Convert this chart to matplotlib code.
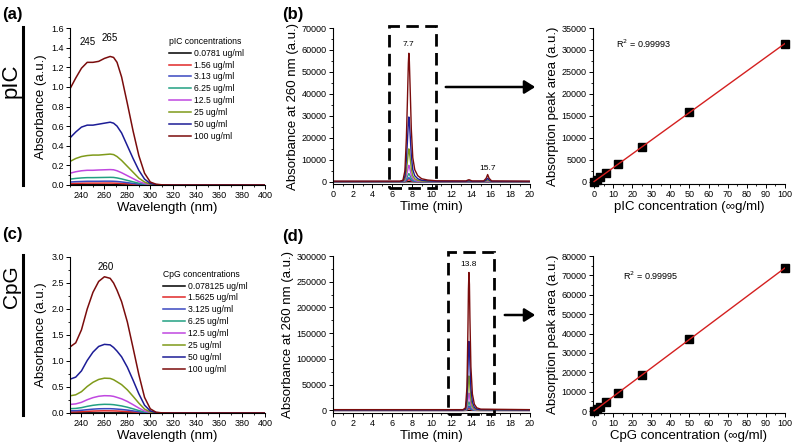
import matplotlib
matplotlib.use("Agg")
import matplotlib.pyplot as plt
import numpy as np
from matplotlib.patches import Rectangle, FancyArrowPatch
from matplotlib.lines import Line2D
from matplotlib.ticker import MultipleLocator

plt.rcParams['font.family'] = ['Liberation Sans', 'DejaVu Sans']

# ---------------- data ----------------
colors = ['#000000', '#e02828', '#3a48c0', '#22a082', '#c048e0', '#7f9a1a', '#1c1c96', '#7a0c0c']

pic_labels = ['0.0781 ug/ml', '1.56 ug/ml', '3.13 ug/ml', '6.25 ug/ml', '12.5 ug/ml', '25 ug/ml', '50 ug/ml', '100 ug/ml']
cpg_labels = ['0.078125 ug/ml', '1.5625 ug/ml', '3.125 ug/ml', '6.25 ug/ml', '12.5 ug/ml', '25 ug/ml', '50 ug/ml', '100 ug/ml']

wavelength = [230, 235, 240, 245, 250, 255, 260, 265, 268, 271, 275, 280, 285, 290, 295, 300, 305, 310, 320, 400]

pic_abs_0078 = [0.002, 0.002, 0.002, 0.002, 0.002, 0.002, 0.002, 0.002, 0.002, 0.002, 0.001, 0.001, 0.001, 0, 0, 0, 0, 0, 0, 0]
pic_abs_156 = [0.015, 0.017, 0.018, 0.019, 0.019, 0.019, 0.0195, 0.02, 0.019, 0.018, 0.016, 0.012, 0.008, 0.0045, 0.002, 0.0005, 0, 0, 0, 0]
pic_abs_313 = [0.03, 0.034, 0.036, 0.038, 0.038, 0.038, 0.039, 0.039, 0.038, 0.036, 0.031, 0.024, 0.016, 0.009, 0.004, 0.001, 0, 0, 0, 0]
pic_abs_625 = [0.06, 0.067, 0.072, 0.075, 0.075, 0.076, 0.077, 0.078, 0.077, 0.072, 0.062, 0.047, 0.032, 0.018, 0.008, 0.002, 0.0005, 0, 0, 0]
pic_abs_125 = [0.12, 0.135, 0.145, 0.15, 0.15, 0.153, 0.155, 0.157, 0.155, 0.145, 0.125, 0.095, 0.065, 0.035, 0.015, 0.004, 0.001, 0, 0, 0]
pic_abs_25 = [0.24, 0.27, 0.29, 0.30, 0.305, 0.305, 0.31, 0.315, 0.31, 0.29, 0.25, 0.19, 0.13, 0.07, 0.03, 0.008, 0.002, 0, 0, 0]
pic_abs_50 = [0.48, 0.54, 0.59, 0.61, 0.61, 0.62, 0.63, 0.64, 0.63, 0.60, 0.53, 0.40, 0.27, 0.15, 0.06, 0.015, 0.004, 0.001, 0, 0]
pic_abs_100 = [0.98, 1.09, 1.19, 1.25, 1.25, 1.26, 1.29, 1.31, 1.30, 1.25, 1.10, 0.83, 0.55, 0.30, 0.12, 0.03, 0.008, 0.002, 0.0, 0.0]

cpg_abs_0078 = [0.002, 0.002, 0.002, 0.002, 0.002, 0.002, 0.002, 0.002, 0.002, 0.002, 0.002, 0.001, 0.001, 0, 0, 0, 0, 0, 0, 0]
cpg_abs_156 = [0.021, 0.022, 0.026, 0.032, 0.037, 0.04, 0.042, 0.041, 0.04, 0.038, 0.034, 0.028, 0.02, 0.012, 0.005, 0.001, 0, 0, 0, 0]
cpg_abs_313 = [0.042, 0.044, 0.052, 0.064, 0.074, 0.081, 0.083, 0.083, 0.08, 0.075, 0.068, 0.056, 0.04, 0.024, 0.01, 0.003, 0, 0, 0, 0]
cpg_abs_625 = [0.083, 0.088, 0.103, 0.128, 0.148, 0.161, 0.167, 0.165, 0.16, 0.15, 0.136, 0.111, 0.08, 0.047, 0.019, 0.005, 0.001, 0, 0, 0]
cpg_abs_125 = [0.165, 0.175, 0.205, 0.255, 0.295, 0.322, 0.333, 0.33, 0.32, 0.30, 0.272, 0.222, 0.16, 0.095, 0.038, 0.01, 0.002, 0, 0, 0]
cpg_abs_25 = [0.33, 0.35, 0.41, 0.51, 0.59, 0.645, 0.67, 0.665, 0.64, 0.60, 0.545, 0.445, 0.32, 0.19, 0.075, 0.02, 0.004, 0.001, 0, 0]
cpg_abs_50 = [0.65, 0.69, 0.81, 1.01, 1.17, 1.28, 1.32, 1.31, 1.26, 1.19, 1.08, 0.88, 0.63, 0.37, 0.15, 0.04, 0.008, 0.002, 0, 0]
cpg_abs_100 = [1.27, 1.35, 1.60, 2.00, 2.32, 2.53, 2.62, 2.59, 2.50, 2.36, 2.14, 1.75, 1.25, 0.74, 0.30, 0.08, 0.015, 0.003, 0, 0]

time_pic = [0, 6.8, 7.1, 7.3, 7.45, 7.55, 7.65, 7.7, 7.75, 7.85, 7.95, 8.1, 8.3, 8.6, 9.0, 9.6, 10.5, 13.5, 13.75, 13.85, 14.1, 15.3, 15.55, 15.7, 15.85, 16.1, 20]
hplc_pic_0078 = [0, 0, 1, 4, 16, 28, 42, 47, 43, 31, 19, 9, 4, 2, 1, 1, 0, 0, 1, 1, 0, 0, 1, 3, 1, 0, 0]
hplc_pic_156 = [5, 5, 11, 78, 312, 560, 850, 940, 860, 625, 375, 175, 85, 44, 22, 12, 7, 6, 14, 14, 6, 6, 25, 51, 25, 6, 5]
hplc_pic_313 = [10, 10, 22, 155, 625, 1125, 1700, 1880, 1720, 1250, 750, 350, 170, 88, 45, 25, 14, 12, 28, 28, 12, 12, 50, 103, 50, 12, 10]
hplc_pic_625 = [20, 20, 45, 310, 1250, 2250, 3400, 3750, 3450, 2500, 1500, 700, 345, 175, 90, 50, 28, 25, 55, 55, 25, 25, 100, 205, 100, 25, 20]
hplc_pic_125 = [40, 40, 90, 625, 2500, 4500, 6750, 7500, 6900, 5000, 3000, 1400, 690, 350, 175, 100, 55, 50, 110, 110, 50, 50, 200, 410, 200, 50, 40]
hplc_pic_25 = [75, 75, 175, 1250, 5000, 9000, 13500, 15000, 13750, 10000, 6000, 2750, 1375, 700, 350, 200, 110, 100, 225, 225, 100, 100, 400, 825, 400, 100, 75]
hplc_pic_50 = [150, 150, 350, 2500, 10000, 18000, 27000, 29500, 27500, 20000, 12000, 5500, 2750, 1400, 700, 400, 225, 200, 450, 450, 200, 200, 800, 1650, 800, 200, 150]
hplc_pic_100 = [300, 300, 700, 5000, 20000, 36000, 54000, 58500, 55000, 40000, 24000, 11000, 5500, 2800, 1400, 800, 450, 400, 900, 900, 400, 400, 1600, 3300, 1600, 400, 300]

time_cpg = [0, 13.2, 13.45, 13.6, 13.7, 13.75, 13.8, 13.85, 13.9, 14.0, 14.15, 14.35, 14.6, 15.0, 20]
hplc_cpg_0078 = [1, 1, 4, 35, 125, 185, 210, 190, 140, 66, 25, 9, 4, 2, 1]
hplc_cpg_156 = [24, 24, 78, 700, 2500, 3670, 4200, 3830, 2800, 1330, 500, 190, 78, 39, 24]
hplc_cpg_313 = [48, 48, 155, 1400, 5000, 7350, 8400, 7650, 5600, 2650, 1000, 375, 155, 78, 48]
hplc_cpg_625 = [95, 95, 310, 2810, 10000, 14700, 16750, 15300, 11250, 5300, 2000, 750, 310, 155, 95]
hplc_cpg_125 = [190, 190, 625, 5625, 20000, 29400, 33500, 30600, 22500, 10600, 4000, 1500, 625, 310, 190]
hplc_cpg_25 = [375, 375, 1250, 11250, 40000, 58750, 67000, 61250, 45000, 21250, 8000, 3000, 1250, 625, 375]
hplc_cpg_50 = [750, 750, 2500, 22500, 80000, 117500, 134000, 122500, 90000, 42500, 16000, 6000, 2500, 1250, 750]
hplc_cpg_100 = [1500, 1500, 5000, 45000, 160000, 235000, 268000, 245000, 180000, 85000, 32000, 12000, 5000, 2500, 1500]

conc_pic = [0.0781, 1.56, 3.13, 6.25, 12.5, 25, 50, 100]
area_pic = [25, 490, 985, 1980, 4000, 7950, 15900, 31400]
conc_cpg = [0.078125, 1.5625, 3.125, 6.25, 12.5, 25, 50, 100]
area_cpg = [58, 1160, 2320, 4650, 9300, 18700, 37000, 73800]

pic_spectra = [pic_abs_0078, pic_abs_156, pic_abs_313, pic_abs_625, pic_abs_125, pic_abs_25, pic_abs_50, pic_abs_100]
cpg_spectra = [cpg_abs_0078, cpg_abs_156, cpg_abs_313, cpg_abs_625, cpg_abs_125, cpg_abs_25, cpg_abs_50, cpg_abs_100]
pic_hplc = [hplc_pic_0078, hplc_pic_156, hplc_pic_313, hplc_pic_625, hplc_pic_125, hplc_pic_25, hplc_pic_50, hplc_pic_100]
cpg_hplc = [hplc_cpg_0078, hplc_cpg_156, hplc_cpg_313, hplc_cpg_625, hplc_cpg_125, hplc_cpg_25, hplc_cpg_50, hplc_cpg_100]

# ---------------- figure ----------------
W, H = 793, 445
fig = plt.figure(figsize=(W / 100, H / 100), dpi=100)

def rect(x0, y0, x1, y1):
    return [x0 / W, 1 - y1 / H, (x1 - x0) / W, (y1 - y0) / H]

TICK_FS = 6.5
LAB_FS = 9.5

def style(ax, xmaj, xmin, ymaj, ymin):
    for s in ['top', 'right']:
        ax.spines[s].set_visible(False)
    for s in ['left', 'bottom']:
        ax.spines[s].set_linewidth(0.8)
    ax.xaxis.set_major_locator(MultipleLocator(xmaj))
    ax.xaxis.set_minor_locator(MultipleLocator(xmin))
    ax.yaxis.set_major_locator(MultipleLocator(ymaj))
    ax.yaxis.set_minor_locator(MultipleLocator(ymin))
    ax.tick_params(which='major', direction='out', length=3, width=0.7, labelsize=TICK_FS, pad=1.5)
    ax.tick_params(which='minor', direction='out', length=1.6, width=0.6)

# (a) pIC spectra
ax_a = fig.add_axes(rect(70, 28, 265, 185))
for y, c, l in zip(pic_spectra, colors, pic_labels):
    ax_a.plot(wavelength, y, color=c, lw=1.1, label=l)
ax_a.set_xlim(230, 400)
ax_a.set_ylim(0, 1.6)
style(ax_a, 20, 10, 0.2, 0.1)
ax_a.set_xlabel('Wavelength (nm)', fontsize=LAB_FS, labelpad=1)
ax_a.set_ylabel('Absorbance (a.u.)', fontsize=LAB_FS, labelpad=3)
ax_a.text(245, 1.46, '245', fontsize=7, ha='center', va='center')
ax_a.text(265, 1.50, '265', fontsize=7, ha='center', va='center')
ax_a.legend(title='pIC concentrations', loc='upper left', bbox_to_anchor=(0.49, 0.965),
            frameon=False, fontsize=6.2, title_fontsize=6.2, handlelength=2.5,
            handletextpad=0.35, labelspacing=0.33, borderaxespad=0, alignment='left')

# (c) CpG spectra
ax_c = fig.add_axes(rect(70, 257, 265, 413))
for y, c, l in zip(cpg_spectra, colors, cpg_labels):
    ax_c.plot(wavelength, y, color=c, lw=1.1, label=l)
ax_c.set_xlim(230, 400)
ax_c.set_ylim(0, 3.0)
style(ax_c, 20, 10, 0.5, 0.25)
ax_c.set_xlabel('Wavelength (nm)', fontsize=LAB_FS, labelpad=1)
ax_c.set_ylabel('Absorbance (a.u.)', fontsize=LAB_FS, labelpad=3)
ax_c.text(261, 2.81, '260', fontsize=7, ha='center', va='center')
ax_c.legend(title='CpG concentrations', loc='upper left', bbox_to_anchor=(0.46, 0.94),
            frameon=False, fontsize=6.2, title_fontsize=6.2, handlelength=2.5,
            handletextpad=0.35, labelspacing=0.33, borderaxespad=0, alignment='left')

# (b) pIC HPLC
ax_b = fig.add_axes(rect(333, 28, 530, 184))
for y, c in zip(pic_hplc, colors):
    ax_b.plot(time_pic, y, color=c, lw=1.0)
ax_b.set_xlim(0, 20)
ax_b.set_ylim(-1000, 70000)
style(ax_b, 2, 1, 10000, 5000)
ax_b.set_xlabel('Time (min)', fontsize=LAB_FS, labelpad=1)
ax_b.set_ylabel('Absorbance at 260 nm (a.u.)', fontsize=LAB_FS, labelpad=2)
ax_b.text(7.7, 61000, '7.7', fontsize=6, ha='center', va='bottom')
ax_b.text(15.7, 4500, '15.7', fontsize=6, ha='center', va='bottom')
ax_b.add_patch(Rectangle((5.65, -2700), 4.8, 73600, fill=False, ec='black', lw=2.0,
                         ls=(0, (4.5, 2.3)), clip_on=False, zorder=5))

# (d) CpG HPLC
ax_d = fig.add_axes(rect(333, 256, 530, 413))
for y, c in zip(cpg_hplc, colors):
    ax_d.plot(time_cpg, y, color=c, lw=1.0)
ax_d.set_xlim(0, 20)
ax_d.set_ylim(-5000, 300000)
style(ax_d, 2, 1, 50000, 25000)
ax_d.set_xlabel('Time (min)', fontsize=LAB_FS, labelpad=1)
ax_d.set_ylabel('Absorbance at 260 nm (a.u.)', fontsize=LAB_FS, labelpad=2)
ax_d.text(13.8, 276000, '13.8', fontsize=6, ha='center', va='bottom')
ax_d.add_patch(Rectangle((11.7, -6500), 4.65, 314000, fill=False, ec='black', lw=2.0,
                         ls=(0, (4.5, 2.3)), clip_on=False, zorder=5))

# calibration pIC
ax_e = fig.add_axes(rect(593, 28, 785, 184))
k, b = np.polyfit(conc_pic, area_pic, 1)
xf = np.array([min(conc_pic), max(conc_pic)])
ax_e.plot(xf, k * xf + b, color='#d42020', lw=1.0, zorder=3)
ax_e.plot(conc_pic, area_pic, 's', color='black', ms=5.2, zorder=2, clip_on=False)
ax_e.set_xlim(-0.5, 100)
ax_e.set_ylim(-500, 35000)
style(ax_e, 10, 5, 5000, 2500)
ax_e.set_xlabel('pIC concentration (\u221eg/ml)', fontsize=LAB_FS, labelpad=1)
ax_e.set_ylabel('Absorption peak area (a.u.)', fontsize=LAB_FS, labelpad=2)
ax_e.text(11.5, 31500, 'R$^{2}$ = 0.99993', fontsize=6.5, ha='left', va='center')

# calibration CpG
ax_f = fig.add_axes(rect(593, 256, 785, 413))
k2, b2 = np.polyfit(conc_cpg, area_cpg, 1)
xf2 = np.array([min(conc_cpg), max(conc_cpg)])
ax_f.plot(xf2, k2 * xf2 + b2, color='#d42020', lw=1.0, zorder=3)
ax_f.plot(conc_cpg, area_cpg, 's', color='black', ms=5.2, zorder=2, clip_on=False)
ax_f.set_xlim(-0.5, 100)
ax_f.set_ylim(-1000, 80000)
style(ax_f, 10, 5, 10000, 5000)
ax_f.set_xlabel('CpG concentration (\u221eg/ml)', fontsize=LAB_FS, labelpad=1)
ax_f.set_ylabel('Absorption peak area (a.u.)', fontsize=LAB_FS, labelpad=2)
ax_f.text(15, 69800, 'R$^{2}$ = 0.99995', fontsize=6.5, ha='left', va='center')

# ---------------- figure-level decorations ----------------
def fx(x):
    return x / W

def fy(y):
    return 1 - y / H

# arrows
for (x0, x1, yy) in [(443, 538, 87), (502, 538, 315)]:
    fig.patches.append(FancyArrowPatch((fx(x0), fy(yy)), (fx(x1), fy(yy)), transform=fig.transFigure,
                                       arrowstyle='-|>,head_length=4,head_width=2.5', lw=1.8,
                                       color='black', mutation_scale=1.6))

# vertical bars and side labels
fig.add_artist(Line2D([fx(23), fx(23)], [fy(27), fy(185)], color='black', lw=2.2))
fig.add_artist(Line2D([fx(23), fx(23)], [fy(255), fy(415)], color='black', lw=2.2))
fig.text(fx(11), fy(81), 'pIC', rotation=90, fontsize=16, ha='center', va='center')
fig.text(fx(11), fy(287), 'CpG', rotation=90, fontsize=15, ha='center', va='center')

# panel labels
for lab, x, y in [('(a)', 2, 14), ('(b)', 282, 14), ('(c)', 2, 235), ('(d)', 282, 236)]:
    fig.text(fx(x), fy(y), lab, fontsize=12, fontweight='bold', ha='left', va='center')

fig.savefig('out.png', dpi=100)
